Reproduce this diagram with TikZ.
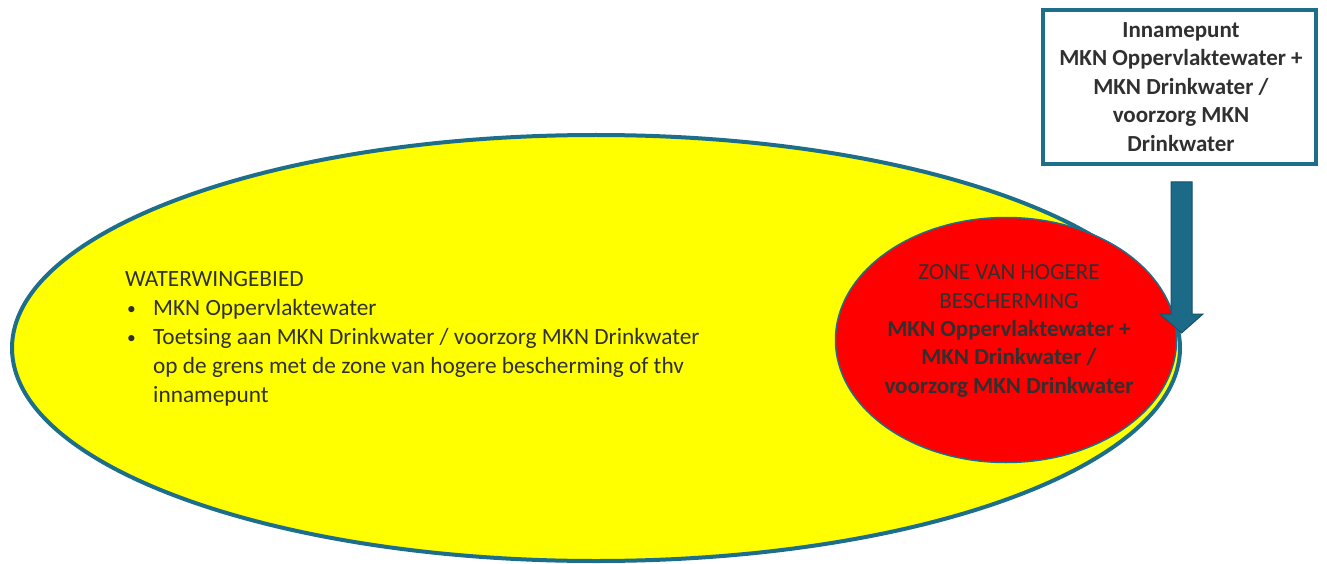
\documentclass[tikz,border=0pt]{standalone}
\usepackage{fontspec}
\setmainfont{Carlito}
\usetikzlibrary{shapes.geometric}
\definecolor{rand}{HTML}{1D6E8B}
\definecolor{pijl}{HTML}{1B6A87}
\definecolor{pijlrand}{HTML}{15536B}
\definecolor{tekst}{HTML}{303030}
\definecolor{geel}{HTML}{FFFF00}
\definecolor{rood}{HTML}{FF0000}
\tikzset{
  gebied/.style = {ellipse, draw = rand, inner sep = 0pt, outer sep = 0pt},
  lijst/.style = {text = tekst, align = left, inner sep = 0pt,
    font = \fontsize{23.3}{29}\selectfont},
  midden/.style = {text = tekst, align = center, inner sep = 0pt,
    font = \fontsize{23}{28.4}\selectfont}
}
\newcommand{\bol}{\makebox[28pt][l]{\hspace*{2pt}\raisebox{1pt}{\scalebox{0.75}{•}}}}
\newcommand{\inspring}{\hspace*{28pt}}
\begin{document}
\begin{tikzpicture}[x = 1pt, y = -1pt]
	\useasboundingbox (0,0) rectangle (1327,564);
	% waterwingebied
	\node [gebied, fill = geel, line width = 4pt, minimum width = 1168pt, minimum height = 426pt] (wwg) at (596,348) {};
	% zone van hogere bescherming
	\node [gebied, fill = rood, line width = 1.5pt, minimum width = 341pt, minimum height = 245pt] (zone) at (1006,340) {};
	\node [lijst, anchor = north west] (wwgtekst) at (125,271) {WATERWINGEBIED\\
	\bol MKN Oppervlaktewater\\
	\bol Toetsing aan MKN Drinkwater / voorzorg MKN Drinkwater\\
	\inspring op de grens met de zone van hogere bescherming of thv\\
	\inspring innamepunt};
	\node [midden] (zonetekst) at (1009,331) {ZONE VAN HOGERE\\
	BESCHERMING\\
	\textbf{MKN Oppervlaktewater +}\\
	\textbf{MKN Drinkwater /}\\
	\textbf{voorzorg MKN Drinkwater}};
	% innamepunt
	\node [draw = rand, fill = white, line width = 4pt, minimum width = 273pt, minimum height = 154pt, inner sep = 0pt] (inname) at (1179.5,87) {};
	\node [midden] (innametekst) at (1181,87) {\textbf{Innamepunt}\\
	\textbf{MKN Oppervlaktewater +}\\
	\textbf{MKN Drinkwater /}\\
	\textbf{voorzorg MKN}\\
	\textbf{Drinkwater}};
	% pijl
	\draw [fill = pijl, draw = pijlrand, line width = 1pt, line join = miter] (1171,182) -- (1192,182) -- (1192,314) -- (1203,314) -- (1181.5,333) -- (1160,314) -- (1171,314) -- cycle;
\end{tikzpicture}
\end{document}
